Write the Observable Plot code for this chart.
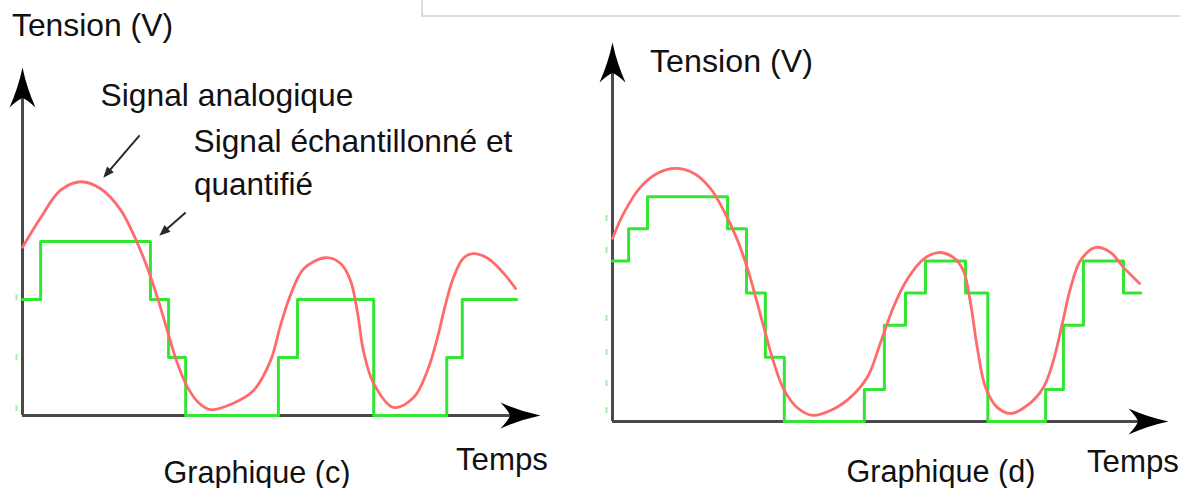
<!DOCTYPE html>
<html><head><meta charset="utf-8">
<script src="https://cdn.jsdelivr.net/npm/d3@7"></script>
<script src="https://cdn.jsdelivr.net/npm/@observablehq/plot@0.6"></script>
<style>
body{margin:0;background:#fff;}
#wrap{position:relative;width:1180px;height:488px;overflow:hidden;background:#fff;font-family:"Liberation Sans",Arial,sans-serif;color:#111;}
.panel{position:absolute;top:0;width:590px;height:488px;}
.lbl{position:absolute;white-space:nowrap;}
#box{position:absolute;left:421px;top:-10px;width:1000px;height:27px;box-sizing:border-box;border:2px solid #dcdcdc;}
</style></head><body>
<div id="wrap">
  <div id="c" class="panel" style="left:0"></div>
  <div id="d" class="panel" style="left:590px"></div>
  <div id="box"></div>
</div>
<script>
// ---- Graphique (c) : signal analogique (rouge) ----
const analogC_t = [0, 3.5, 7.3, 11.2, 15.1, 18.9, 21.8, 24.3, 26.1, 28.0, 29.9, 31.9, 34.0, 36.3, 40.7, 44.6, 47.9, 49.8, 51.7, 54.3, 58.5, 61.4, 63.3, 64.7, 65.8, 67.8, 71.6, 75.5, 78.2, 80.1, 81.7, 83.2, 85.1, 86.9, 89.8, 92.9, 95.2];
const analogC_v = [2.90, 3.41, 3.88, 4.03, 3.91, 3.55, 3.05, 2.50, 2.02, 1.45, 0.90, 0.48, 0.22, 0.10, 0.21, 0.43, 0.95, 1.55, 2.07, 2.53, 2.72, 2.62, 2.33, 1.76, 1.12, 0.55, 0.14, 0.31, 0.78, 1.34, 1.93, 2.38, 2.71, 2.79, 2.71, 2.45, 2.19];
// ---- Graphique (c) : signal échantillonné et quantifié (vert) ----
const sampleC_t = [0, 3.5, 24.7, 28.2, 31.5, 49.4, 53.1, 67.8, 81.9, 84.9, 95.4];
const sampleC_v = [2, 3, 2, 1, 0, 1, 2, 0, 1, 2, 2];
const ticksC_v = [0.12, 1.0, 2.03];
// ---- Graphique (d) ----
const analogD_t = [0, 2.0, 5.0, 8.1, 11.3, 14.6, 17.6, 20.0, 22.5, 24.3, 26.1, 27.5, 28.8, 30.8, 33.3, 36.0, 39.2, 42.8, 45.9, 48.2, 50.5, 53.1, 55.9, 58.6, 61.3, 63.1, 64.4, 65.6, 67.1, 69.2, 71.6, 74.6, 77.5, 79.3, 80.9, 82.4, 84.2, 86.9, 89.6, 91.9, 94.8];
const analogD_v = [5.70, 6.48, 7.29, 7.73, 7.88, 7.73, 7.26, 6.57, 5.64, 4.75, 3.65, 2.75, 1.95, 1.00, 0.42, 0.19, 0.34, 0.75, 1.40, 2.45, 3.55, 4.45, 5.05, 5.26, 5.11, 4.70, 3.68, 2.31, 1.06, 0.44, 0.25, 0.50, 1.06, 1.90, 3.05, 4.17, 5.02, 5.42, 5.26, 4.80, 4.30];
const sampleD_t = [0, 2.9, 6.3, 20.7, 24.1, 27.5, 30.9, 45.3, 48.9, 52.7, 56.3, 63.5, 67.5, 77.9, 81.1, 84.7, 91.9, 95.0];
const sampleD_v = [5, 6, 7, 6, 4, 2, 0, 1, 3, 4, 5, 4, 0, 1, 3, 5, 4, 4];
const ticksD_v = [0.34, 1.18, 2.15, 3.21, 5.33, 6.32];
// ---- flèches d'annotation (graphique c) ----
const annot_t1 = [22.6, 31.5];
const annot_v1 = [4.83, 3.50];
const annot_t2 = [15.6, 26.4];
const annot_v2 = [4.10, 3.10];
// ---- textes ----
const labelText = ["Tension (V)", "Signal analogique", "Signal échantillonné et", "quantifié", "Graphique (c)", "Temps", "Tension (V)", "Graphique (d)", "Temps"];
const labelLeft = [12, 100.5, 193.5, 194, 163.5, 456, 650, 846.5, 1087];
const labelBase = [37, 107, 153, 196, 483, 470, 72, 482, 472];
const labelWidth = [161, 253, 319, 119, 187, 92, 163, 189, 92];

const zipTV = (t, v) => t.map((d, i) => ({t: d, v: v[i]}));

const L = 40, W = 26;
const arrowUp = {draw(ctx) {
  ctx.moveTo(0, 0);
  ctx.quadraticCurveTo(-W * 0.16, L * 0.5, -W / 2, L);
  ctx.quadraticCurveTo(-W * 0.18, L * 0.8, 0, L * 0.76);
  ctx.quadraticCurveTo(W * 0.18, L * 0.8, W / 2, L);
  ctx.quadraticCurveTo(W * 0.16, L * 0.5, 0, 0);
  ctx.closePath();
}};
const arrowRight = {draw(ctx) {
  ctx.moveTo(0, 0);
  ctx.quadraticCurveTo(-L * 0.5, -W * 0.16, -L, -W / 2);
  ctx.quadraticCurveTo(-L * 0.8, -W * 0.18, -L * 0.76, 0);
  ctx.quadraticCurveTo(-L * 0.8, W * 0.18, -L, W / 2);
  ctx.quadraticCurveTo(-L * 0.5, W * 0.16, 0, 0);
  ctx.closePath();
}};
// small filled head for annotation arrows, oriented by angle (radians, screen space)
function headSymbol(angle) {
  const hl = 11, hw = 4.5, c = Math.cos(angle), s = Math.sin(angle);
  const p = (a, b) => [a * c - b * s, a * s + b * c];
  return {draw(ctx) {
    const b1 = p(-hl, -hw), b2 = p(-hl, hw);
    ctx.moveTo(0, 0); ctx.lineTo(b1[0], b1[1]); ctx.lineTo(b2[0], b2[1]); ctx.closePath();
  }};
}

function panel(o) {
  const xMax = 100;
  const pxX = (590 - o.ml - o.mr) / xMax;
  const pxY = (488 - o.mt - o.mb) / o.yMax;
  const tickH = 3 / pxY;
  const marks = [
    Plot.ruleY([0], {x1: 0, x2: xMax - 20 / pxX, stroke: "#4a4a4a", strokeWidth: 3}),
    Plot.ruleX([0], {y1: 0, y2: o.yMax - 20 / pxY, stroke: "#4a4a4a", strokeWidth: 3}),
    Plot.ruleX(o.ticks, {x: 0, dx: -6, y1: d => d - tickH, y2: d => d + tickH, stroke: "#a6eea6", strokeWidth: 2}),
    Plot.line(o.sampled, {x: "t", y: "v", curve: "step-after", stroke: "#33e633", strokeWidth: 3}),
    Plot.line(o.analog, {x: "t", y: "v", curve: "catmull-rom", stroke: "#ff6b6b", strokeWidth: 2.8}),
    Plot.dot([{t: xMax, v: 0}], {x: "t", y: "v", symbol: arrowRight, fill: "#000", stroke: "none"}),
    Plot.dot([{t: 0, v: o.yMax}], {x: "t", y: "v", symbol: arrowUp, fill: "#000", stroke: "none"})
  ];
  if (o.arrows) {
    o.arrows.forEach(a => {
      const ang = Math.atan2(-(a.v2 - a.v1) * pxY, (a.t2 - a.t1) * pxX);
      const hl = 9 / Math.hypot((a.t2 - a.t1) * pxX, (a.v2 - a.v1) * pxY);
      marks.push(Plot.link([a], {x1: "t1", y1: "v1", x2: d => d.t2 - (d.t2 - d.t1) * hl, y2: d => d.v2 - (d.v2 - d.v1) * hl, stroke: "#2a2a2a", strokeWidth: 2}));
      marks.push(Plot.dot([a], {x: "t2", y: "v2", symbol: headSymbol(ang), fill: "#2a2a2a", stroke: "none"}));
    });
  }
  return Plot.plot({
    width: 590, height: 488,
    marginLeft: o.ml, marginRight: o.mr, marginTop: o.mt, marginBottom: o.mb,
    x: {domain: [0, xMax], axis: null},
    y: {domain: [0, o.yMax], axis: null},
    style: {background: "transparent", overflow: "visible"},
    marks
  });
}

const arrowsC = annot_t1.map((d, i) => ({t1: d, v1: annot_v1[i], t2: annot_t2[i], v2: annot_v2[i]}));

document.getElementById("c").append(panel({
  ml: 22, mr: 50, mt: 67, mb: 73, yMax: 6,
  analog: zipTV(analogC_t, analogC_v), sampled: zipTV(sampleC_t, sampleC_v), ticks: ticksC_v, arrows: arrowsC
}));
document.getElementById("d").append(panel({
  ml: 22, mr: 12, mt: 42, mb: 67, yMax: 11.8,
  analog: zipTV(analogD_t, analogD_v), sampled: zipTV(sampleD_t, sampleD_v), ticks: ticksD_v
}));

// labels: font size fitted to the reference text width
const ctx = document.createElement("canvas").getContext("2d");
const wrap = document.getElementById("wrap");
labelText.forEach((txt, i) => {
  ctx.font = '30px "Liberation Sans", Arial, sans-serif';
  const w30 = ctx.measureText(txt).width;
  let fs = 30 * labelWidth[i] / w30;
  fs = Math.max(28, Math.min(33, fs));
  const el = document.createElement("div");
  el.className = "lbl";
  el.textContent = txt;
  el.style.fontSize = fs + "px";
  el.style.lineHeight = fs + "px";
  el.style.left = labelLeft[i] + "px";
  el.style.top = (labelBase[i] - 0.8465 * fs) + "px";
  wrap.append(el);
});
</script>
</body></html>
